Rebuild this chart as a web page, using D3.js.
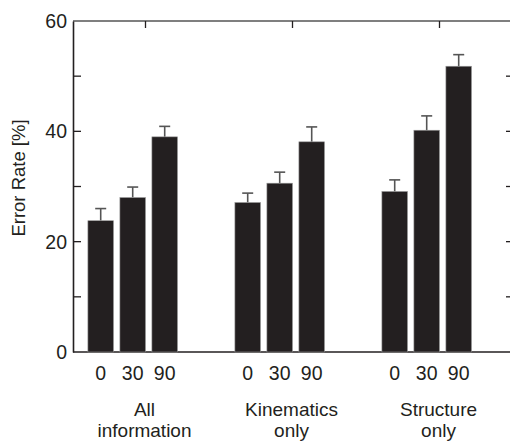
<!DOCTYPE html>
<html>
<head>
<meta charset="utf-8">
<script src="https://cdn.jsdelivr.net/npm/d3@7"></script>
<style>
  body { margin: 0; background: #fff; }
  svg { display: block; font-family: "Liberation Sans", Arial, sans-serif; }
</style>
</head>
<body>
<svg id="chart" width="510" height="441"></svg>
<script>
// data
var groups = ["All information", "Kinematics only", "Structure only"];
var groupLines = [["All", "information"], ["Kinematics", "only"], ["Structure", "only"]];
var angles = ["0", "30", "90"];
var allInfo = [23.8, 28.0, 39.0];
var kinOnly = [27.1, 30.6, 38.1];
var strOnly = [29.1, 40.2, 51.8];
var allInfoErr = [2.2, 1.9, 1.9];
var kinOnlyErr = [1.7, 2.0, 2.7];
var strOnlyErr = [2.1, 2.6, 2.1];
var yTicks = [0, 20, 40, 60];
var yMinor = [0, 10, 20, 30, 40, 50, 60];

var means = [allInfo, kinOnly, strOnly];
var errs = [allInfoErr, kinOnlyErr, strOnlyErr];

var svg = d3.select("#chart"),
    margin = {top: 21, right: -4, bottom: 89, left: 73},
    width = +svg.attr("width") - margin.left - margin.right,
    height = +svg.attr("height") - margin.top - margin.bottom;

var ink = "#231f20";
var fs = 19.5;

var y = d3.scaleLinear()
    .domain([0, 60])
    .range([margin.top + height, margin.top]);

var x = d3.scaleBand()
    .domain(groups)
    .range([margin.left - 1, margin.left + width - 1]);

var xInner = d3.scaleBand()
    .domain(angles)
    .range([-44.8, 44.8])
    .paddingInner(0.2);

var rows = [];
groups.forEach(function(g, gi) {
  angles.forEach(function(a, ai) {
    rows.push({group: g, angle: a, mean: means[gi][ai], err: errs[gi][ai]});
  });
});

function cx(d) { return x(d.group) + x.bandwidth() / 2 + xInner(d.angle); }

// frame: top and right tick marks
var frame = svg.append("g");
frame.append("line")
    .attr("x1", margin.left).attr("x2", margin.left + width)
    .attr("y1", y(60)).attr("y2", y(60))
    .attr("stroke", "#555").attr("stroke-width", 1.6);

frame.selectAll(".ttick")
    .data(groups)
  .enter().append("line")
    .attr("x1", function(d) { return x(d) + x.bandwidth() / 2; })
    .attr("x2", function(d) { return x(d) + x.bandwidth() / 2; })
    .attr("y1", y(60)).attr("y2", y(60) + 7)
    .attr("stroke", ink).attr("stroke-width", 1.3);

frame.selectAll(".rtick")
    .data(yMinor.slice(1, -1))
  .enter().append("line")
    .attr("x1", margin.left + width).attr("x2", margin.left + width - 8)
    .attr("y1", function(d) { return y(d); })
    .attr("y2", function(d) { return y(d); })
    .attr("stroke", ink).attr("stroke-width", 1.3);

// bottom axis line
svg.append("line")
    .attr("x1", margin.left).attr("x2", margin.left + width)
    .attr("y1", y(0)).attr("y2", y(0))
    .attr("stroke", ink).attr("stroke-width", 1.6);

// error bars (upper only)
var eb = svg.append("g").attr("stroke", "#555").attr("stroke-width", 1.6);
eb.selectAll(".ev")
    .data(rows)
  .enter().append("line")
    .attr("x1", cx).attr("x2", cx)
    .attr("y1", function(d) { return y(d.mean); })
    .attr("y2", function(d) { return y(d.mean + d.err); });
eb.selectAll(".ec")
    .data(rows)
  .enter().append("line")
    .attr("x1", function(d) { return cx(d) - 5.5; })
    .attr("x2", function(d) { return cx(d) + 5.5; })
    .attr("y1", function(d) { return y(d.mean + d.err); })
    .attr("y2", function(d) { return y(d.mean + d.err); });

// bars
svg.append("g").selectAll("rect")
    .data(rows)
  .enter().append("rect")
    .attr("x", function(d) { return cx(d) - xInner.bandwidth() / 2; })
    .attr("y", function(d) { return y(d.mean); })
    .attr("width", xInner.bandwidth())
    .attr("height", function(d) { return y(0) - y(d.mean); })
    .attr("fill", ink)
    .attr("stroke", "#9a9a9a")
    .attr("stroke-width", 0.6);

// left axis
var yAxis = svg.append("g")
    .attr("transform", "translate(" + margin.left + ",0)")
    .call(d3.axisLeft(y).tickValues(yMinor).tickSize(0).tickFormat(""));
yAxis.select(".domain").attr("stroke", ink).attr("stroke-width", 1.6);

svg.append("g").selectAll("line")
    .data(yMinor.slice(1, -1))
  .enter().append("line")
    .attr("x1", margin.left).attr("x2", margin.left + 8)
    .attr("y1", function(d) { return y(d); })
    .attr("y2", function(d) { return y(d); })
    .attr("stroke", ink).attr("stroke-width", 1.3);

svg.append("g").selectAll("text")
    .data(yTicks)
  .enter().append("text")
    .attr("x", margin.left - 6)
    .attr("y", function(d) { return y(d) + 7; })
    .attr("text-anchor", "end")
    .attr("font-size", fs)
    .attr("fill", ink)
    .text(function(d) { return d; });

svg.append("text")
    .attr("transform", "translate(25," + 178 + ") rotate(-90)")
    .attr("text-anchor", "middle")
    .attr("font-size", 18.5)
    .attr("fill", ink)
    .text("Error Rate [%]");

// bottom labels
svg.append("g").selectAll("text")
    .data(rows)
  .enter().append("text")
    .attr("x", cx)
    .attr("y", 380)
    .attr("text-anchor", "middle")
    .attr("font-size", fs)
    .attr("fill", ink)
    .text(function(d) { return d.angle; });

// category names, one text per line
var catLines = [];
groups.forEach(function(g, gi) {
  groupLines[gi].forEach(function(t, li) {
    catLines.push({group: g, line: li, text: t});
  });
});
svg.append("g").selectAll("text")
    .data(catLines)
  .enter().append("text")
    .attr("x", function(d) { return x(d.group) + x.bandwidth() / 2 - 1; })
    .attr("y", function(d) { return 416 + d.line * 21; })
    .attr("text-anchor", "middle")
    .attr("font-size", 19)
    .attr("fill", ink)
    .text(function(d) { return d.text; });
</script>
</body>
</html>
